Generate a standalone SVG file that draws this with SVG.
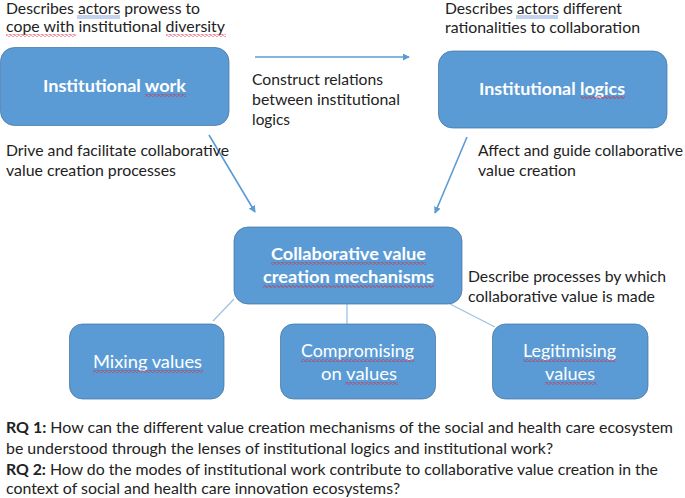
<svg xmlns="http://www.w3.org/2000/svg" width="685" height="498" viewBox="0 0 685 498">
<style>
text{font-family:"Lato","Carlito","Open Sans",sans-serif;font-size:16px;fill:#222}
.b{fill:#5b9bd5;stroke:#41719c;stroke-opacity:.7;stroke-width:1}
.t{fill:#fff;font-size:17px}
.h{font-weight:700}
.e{font-size:15px}
.c{fill:none;stroke:#5b9bd5;stroke-width:1.6}
.l{fill:none;stroke:#9cc3e6;stroke-width:1.3}
.u{fill:none;stroke:#6a8fd8;stroke-width:.8}
</style>
<defs>
<marker id="a" viewBox="0 0 8 8" refX="7" refY="4" markerWidth="7" markerHeight="7" markerUnits="userSpaceOnUse" orient="auto"><path d="M0 0L8 4L0 8Z" fill="#5b9bd5"/></marker>
<pattern id="w" width="4" height="3" patternUnits="userSpaceOnUse"><path d="M0 1.5L1 .5L3 2.5L4 1.5" fill="none" stroke="#d9263a" stroke-width="1"/></pattern>
</defs>
<g id="connectors">
<path class="c" d="M255 57H409" marker-end="url(#a)"/>
<path class="c" d="M209 135L255 212" marker-end="url(#a)"/>
<path class="c" d="M467 137L435 213" marker-end="url(#a)"/>
<path class="l" d="M234 299L213 321"/>
<path class="l" d="M347 304V324"/>
<path class="l" d="M450 304L495 327"/>
</g>
<g id="node-institutional-work">
<rect class="b" x="0.5" y="47.5" width="228.500" height="78" rx="14"/>
<text class="t h" x="43" y="92" textLength="143" lengthAdjust="spacingAndGlyphs">Institutional work</text>
<rect x="145" y="94" width="41" height="3" fill="url(#w)"/>
</g>
<g id="node-institutional-logics">
<rect class="b" x="438.500" y="51" width="228.500" height="77" rx="14"/>
<text class="t h" x="479" y="95" textLength="146" lengthAdjust="spacingAndGlyphs">Institutional logics</text>
<rect x="581" y="96" width="44" height="3" fill="url(#w)"/>
</g>
<g id="node-mechanisms">
<rect class="b" x="234" y="227" width="228" height="77" rx="14"/>
<text class="t h" x="271" y="260" textLength="155" lengthAdjust="spacingAndGlyphs">Collaborative value</text>
<text class="t h" x="263" y="283" textLength="171" lengthAdjust="spacingAndGlyphs">creation mechanisms</text>
<rect x="271" y="262" width="155" height="3" fill="url(#w)"/>
<rect x="263" y="285" width="171" height="3" fill="url(#w)"/>
</g>
<g id="node-mixing">
<rect class="b" x="69.500" y="324" width="154.500" height="75" rx="13"/>
<text class="t" x="93" y="368" textLength="109" lengthAdjust="spacingAndGlyphs">Mixing values</text>
<rect x="93" y="370" width="110" height="3" fill="url(#w)"/>
</g>
<g id="node-compromising">
<rect class="b" x="280.500" y="324" width="155" height="75" rx="13"/>
<text class="t" x="301" y="357" textLength="113" lengthAdjust="spacingAndGlyphs">Compromising</text>
<text class="t" x="321" y="380" textLength="76" lengthAdjust="spacingAndGlyphs">on values</text>
<rect x="301" y="359" width="113" height="3" fill="url(#w)"/>
<rect x="345" y="382" width="53" height="3" fill="url(#w)"/>
</g>
<g id="node-legitimising">
<rect class="b" x="492.500" y="324" width="155.500" height="75" rx="13"/>
<text class="t" x="523" y="357" textLength="93" lengthAdjust="spacingAndGlyphs">Legitimising</text>
<text class="t" x="545" y="380" textLength="50" lengthAdjust="spacingAndGlyphs">values</text>
<rect x="523" y="359" width="93" height="3" fill="url(#w)"/>
<rect x="545" y="382" width="52" height="3" fill="url(#w)"/>
</g>
<g id="notes">
<text class="e" x="6" y="14" textLength="194" lengthAdjust="spacingAndGlyphs">Describes actors prowess to</text>
<path class="u" d="M77 16H120M77 18H120"/>
<text x="6" y="32" textLength="219" lengthAdjust="spacingAndGlyphs">cope with institutional diversity</text>
<rect x="6" y="34" width="70" height="3" fill="url(#w)"/>
<rect x="166" y="34" width="60" height="3" fill="url(#w)"/>
<text class="e" x="445" y="14" textLength="177" lengthAdjust="spacingAndGlyphs">Describes actors different</text>
<path class="u" d="M516 16H558M516 18H558"/>
<text x="445" y="33" textLength="195" lengthAdjust="spacingAndGlyphs">rationalities to collaboration</text>
<text x="252" y="85" textLength="131" lengthAdjust="spacingAndGlyphs">Construct relations</text>
<text x="252" y="105" textLength="148" lengthAdjust="spacingAndGlyphs">between institutional</text>
<text x="252" y="125" textLength="38" lengthAdjust="spacingAndGlyphs">logics</text>
<text x="6" y="156" textLength="223" lengthAdjust="spacingAndGlyphs">Drive and facilitate collaborative</text>
<text x="6" y="176" textLength="170" lengthAdjust="spacingAndGlyphs">value creation processes</text>
<text class="e" x="478" y="156" textLength="205" lengthAdjust="spacingAndGlyphs">Affect and guide collaborative</text>
<text x="478" y="176" textLength="98" lengthAdjust="spacingAndGlyphs">value creation</text>
<text x="468" y="282" textLength="198" lengthAdjust="spacingAndGlyphs">Describe processes by which</text>
<text x="468" y="302" textLength="187" lengthAdjust="spacingAndGlyphs">collaborative value is made</text>
</g>
<g id="questions">
<text x="6" y="433" textLength="667" lengthAdjust="spacingAndGlyphs"><tspan class="h">RQ 1:</tspan> How can the different value creation mechanisms of the social and health care ecosystem</text>
<text x="6" y="454" textLength="547" lengthAdjust="spacingAndGlyphs">be understood through the lenses of institutional logics and institutional work?</text>
<text x="6" y="475" textLength="652" lengthAdjust="spacingAndGlyphs"><tspan class="h">RQ 2:</tspan> How do the modes of institutional work contribute to collaborative value creation in the</text>
<text x="6" y="494" textLength="394" lengthAdjust="spacingAndGlyphs">context of social and health care innovation ecosystems?</text>
</g>
</svg>
